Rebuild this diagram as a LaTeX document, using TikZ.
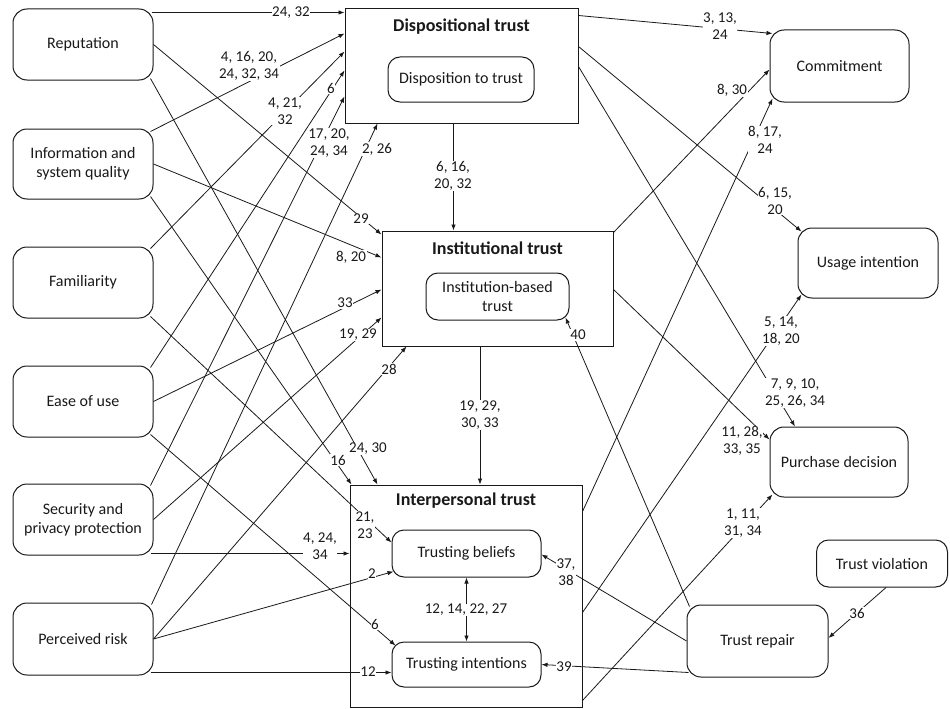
\documentclass[tikz,border=0pt]{standalone}
\usepackage{fontspec}
\setmainfont{Carlito}
\usetikzlibrary{arrows.meta,positioning}

\tikzset{
  factor/.style={draw, rounded corners=14pt, line width=1pt, minimum width=140pt,
    minimum height=71pt, inner sep=2pt, align=center, font=\fontsize{16}{19}\selectfont},
  trustgroup/.style={draw, line width=1pt, inner sep=0pt},
  subtrust/.style={draw, rounded corners=12pt, line width=1pt, inner sep=2pt, align=center,
    font=\fontsize{16}{19}\selectfont},
  grouptitle/.style={font=\bfseries\fontsize{18}{21}\selectfont},
  lbl/.style={fill=white, inner sep=0.6pt, align=center},
  link/.style={-{Latex[length=6pt,width=4.5pt]}, line width=0.8pt},
}

\begin{document}
\begin{tikzpicture}[x=1pt, y=-1pt, font=\fontsize{15}{17.5}\selectfont, color=black!90]
    \useasboundingbox (0,0) rectangle (950,709);

    % antecedents
    \node[factor] (rep) at (83,44.5) {Reputation};
    \node[factor, minimum height=70pt] (info) at (83,164) {Information and\\system quality};
    \node[factor] (fam) at (83,282.5) {Familiarity};
    \node[factor] (ease) at (83,401.5) {Ease of use};
    \node[factor] (sec) at (83,519.5) {Security and\\privacy protection};
    \node[factor, minimum height=72pt] (risk) at (83,639) {Perceived risk};

    % trust constructs
    \node[trustgroup, minimum width=233pt, minimum height=114pt] (disp) at (461.5,66) {};
    \node[grouptitle] (dispT) at (461.5,27) {Dispositional trust};
    \node[subtrust, minimum width=146pt, minimum height=45pt] (distrust) at (461,79.5) {Disposition to trust};

    \node[trustgroup, minimum width=231pt, minimum height=115pt] (inst) at (497.5,288.5) {};
    \node[grouptitle] (instT) at (497.5,248) {Institutional trust};
    \node[subtrust, minimum width=143pt, minimum height=47pt] (instbased) at (497.5,296.5) {Institution-based\\trust};

    \node[trustgroup, minimum width=232pt, minimum height=222pt] (interp) at (466,596) {};
    \node[grouptitle] (interpT) at (466,501) {Interpersonal trust};
    \node[subtrust, minimum width=149pt, minimum height=47pt] (beliefs) at (466.5,553.5) {Trusting beliefs};
    \node[subtrust, minimum width=149pt, minimum height=45pt] (intentions) at (466.5,664.5) {Trusting intentions};

    % outcomes
    \node[factor, minimum width=139pt, minimum height=72pt] (commit) at (839.5,66) {Commitment};
    \node[factor, minimum height=70pt] (usage) at (868,263) {Usage intention};
    \node[factor, minimum width=138pt, minimum height=70pt] (purchase) at (839,462) {Purchase decision};
    \node[subtrust, minimum width=131pt, minimum height=47pt] (violation) at (882,563.5) {Trust violation};
    \node[factor, minimum width=141pt, minimum height=72pt] (repair) at (757.5,641) {Trust repair};

    % into dispositional trust
    \draw[link] ([xshift=-2pt,yshift=-4pt]rep.north east) -- ([yshift=-4pt]disp.north west);
    \draw[link] ([xshift=-3pt,yshift=-3pt]info.north east) -- ([yshift=-25pt]disp.north west);
    \draw[link] ([xshift=-3pt,yshift=-2pt]fam.north east) -- ([yshift=-43pt]disp.north west);
    \draw[link] ([xshift=-3pt,yshift=-2pt]ease.north east) -- ([yshift=-62pt]disp.north west);
    \draw[link] ([xshift=-3pt,yshift=-2pt]sec.north east) -- ([yshift=-88pt]disp.north west);
    \draw[link] ([xshift=-2pt,yshift=-2pt]risk.north east) -- ([xshift=33pt]disp.south west);

    % into institutional trust
    \draw[link] ([xshift=-8pt]disp.south) -- ([xshift=-8pt]disp.south |- inst.north);
    \draw[link] (rep.east) -- ([yshift=-4pt]inst.north west);
    \draw[link] (info.east) -- ([yshift=-27pt]inst.north west);
    \draw[link] (ease.east) -- ([yshift=-59pt]inst.north west);
    \draw[link] (sec.east) -- ([yshift=-87pt]inst.north west);
    \draw[link] (risk.east) -- ([xshift=25pt]inst.south west);

    % into interpersonal trust
    \draw[link] ([xshift=-17.5pt]inst.south) -- ([xshift=-17.5pt]inst.south |- interp.north);
    \draw[link] ([xshift=-3pt,yshift=2pt]rep.south east) -- ([xshift=28pt]interp.north west);
    \draw[link] ([xshift=-3pt,yshift=3pt]info.south east) -- ([xshift=2pt]interp.north west);
    \draw[link] ([xshift=-3pt,yshift=2pt]fam.south east) -- ([yshift=-13pt]beliefs.north west);
    \draw[link] ([xshift=-3pt,yshift=3pt]ease.south east) -- ([xshift=4pt,yshift=-4pt]intentions.north west);
    \draw[link] ([xshift=-3pt,yshift=2pt]sec.south east) coordinate (secout) -- (secout -| interp.west);
    \draw[link] (risk.east) -- ([xshift=2pt,yshift=-42pt]beliefs.north west);
    \draw[link] ([xshift=-3pt,yshift=3pt]risk.south east) coordinate (riskout) -- (riskout -| intentions.west);
    \draw[{Latex[length=6pt,width=4.5pt]}-{Latex[length=6pt,width=4.5pt]}, line width=0.8pt]
      (beliefs.south) -- (intentions.north);

    % outcomes
    \draw[link] ([yshift=-7pt]disp.north east) -- ([xshift=3pt,yshift=-4pt]commit.north west);
    \draw[link] ([yshift=-38pt]disp.north east) -- ([xshift=4pt,yshift=-4pt]usage.north west);
    \draw[link] ([yshift=-58pt]disp.north east) -- ([xshift=-44pt]purchase.north);
    \draw[link] ([yshift=-2pt]inst.north east) -- ([yshift=-40pt]commit.north west);
    \draw[link] ([yshift=-27pt]interp.north east) -- ([xshift=3pt,yshift=4pt]commit.south west);
    \draw[link] ([yshift=-59pt]inst.north east) -- ([yshift=-13pt]purchase.north west);
    \draw[link] ([yshift=-128pt]interp.north east) -- ([xshift=4pt,yshift=4pt]usage.south west);
    \draw[link] ([yshift=7pt]interp.south east) -- ([xshift=3pt,yshift=3pt]purchase.south west);

    % trust repair
    \draw[link] ([xshift=3pt,yshift=-2pt]repair.north west) -- ([xshift=-4pt,yshift=3pt]instbased.south east);
    \draw[link] (repair.west) -- ([yshift=-25pt]beliefs.north east);
    \draw[link] ([xshift=2pt,yshift=5pt]repair.south west) -- (intentions.east);
    \draw[link] ([xshift=4pt]violation.south) -- ([yshift=3pt]repair.east);

    % study numbers
    \node[lbl] (nRepDisp) at (291,13) {24, 32};
    \node[lbl] (nInfoDisp) at (249,66) {4, 16, 20,\\24, 32, 34};
    \node[lbl] (nFamDisp) at (285,111) {4, 21,\\32};
    \node[lbl] (nEaseDisp) at (331,88) {6};
    \node[lbl] (nSecDisp) at (329,143) {17, 20,\\24, 34};
    \node[lbl] (nRiskDisp) at (377,149) {2, 26};
    \node[lbl] (nDispInst) at (453,176) {6, 16,\\20, 32};
    \node[lbl] (nRepInst) at (361,219) {29};
    \node[lbl] (nInfoInst) at (351,257) {8, 20};
    \node[lbl] (nEaseInst) at (345,303) {33};
    \node[lbl] (nSecInst) at (358,335) {19, 29};
    \node[lbl] (nRiskInst) at (389,369) {28};
    \node[lbl] (nInstInterp) at (480,415) {19, 29,\\30, 33};
    \node[lbl] (nRepInterp) at (368,449) {24, 30};
    \node[lbl] (nInfoInterp) at (338,460) {16};
    \node[lbl] (nFamBel) at (365,525) {21,\\23};
    \node[lbl] (nSecInterp) at (320,546) {4, 24,\\34};
    \node[lbl] (nRiskBel) at (372,574) {2};
    \node[lbl] (nEaseInt) at (375,624) {6};
    \node[lbl] (nRiskInt) at (368,672) {12};
    \node[lbl] (nBelInt) at (466,610) {12, 14, 22, 27};
    \node[lbl] (nRepBel) at (566,572) {37,\\38};
    \node[lbl] (nRepInt) at (564,667) {39};
    \node[lbl] (nRepInst) at (578,335) {40};
    \node[lbl] (nDispCom) at (720,26) {3, 13,\\24};
    \node[lbl] (nInstCom) at (732,90) {8, 30};
    \node[lbl] (nInterpCom) at (765,140) {8, 17,\\24};
    \node[lbl] (nDispUse) at (775,201) {6, 15,\\20};
    \node[lbl] (nInterpUse) at (781,331) {5, 14,\\18, 20};
    \node[lbl] (nDispPur) at (795,393) {7, 9, 10,\\25, 26, 34};
    \node[lbl] (nInstPur) at (742,441) {11, 28,\\33, 35};
    \node[lbl] (nInterpPur) at (743,523) {1, 11,\\31, 34};
    \node[lbl] (nVioRep) at (857,613) {36};
\end{tikzpicture}
\end{document}
